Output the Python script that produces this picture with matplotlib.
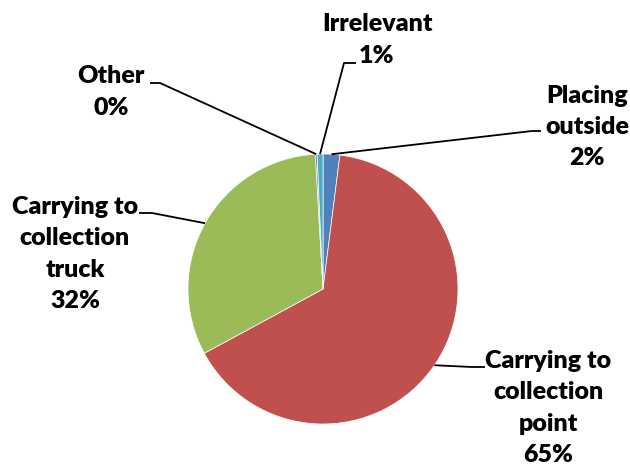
import matplotlib.pyplot as plt
import numpy as np

# slice data, clockwise from 12 o'clock (Excel order)
categories = ['Placing\noutside', 'Carrying to\ncollection\npoint',
              'Carrying to\ncollection\ntruck', 'Other', 'Irrelevant']
shares = [2.0, 65.1, 32.0, 0.2, 0.7]
colors = ['#4F81BD', '#C0504D', '#9BBB59', '#8064A2', '#4BACC6']

W, H = 630, 466

# label centre, leader knee, leader end (pixel coords, y from top)
label_xy = [(587, 127), (548, 408), (75, 254), (111, 92), (377, 40)]
knees = [(532, 131), (472, 367), (152, 213), (160, 83), (344, 63)]
ends = [(541, 131), (485, 367), (139, 213), (150, 83), (356, 63)]

plt.rcParams['font.family'] = ['Lato', 'DejaVu Sans']

fig = plt.figure(figsize=(6.3, 4.66), dpi=100)
ax = fig.add_axes([0, 0, 1, 1])

cx, cy, r = 323, H - 289, 135
wedges, _ = ax.pie(shares, colors=colors, startangle=90, counterclock=False,
                   center=(cx, cy), radius=r, frame=True,
                   wedgeprops=dict(edgecolor='white', linewidth=0.5))

ax.set_xlim(0, W)
ax.set_ylim(0, H)
ax.set_aspect('equal')
ax.axis('off')

for w, lab, v, (tx, ty), (kx, ky), (ex, ey) in zip(wedges, categories, shares,
                                                     label_xy, knees, ends):
    mid = np.deg2rad((w.theta1 + w.theta2) / 2)
    px, py = cx + r * np.cos(mid), cy + r * np.sin(mid)
    ax.plot([px, kx, ex], [py, H - ky, H - ey], color='black', lw=1.3,
            solid_capstyle='butt')
    ax.text(tx, H - ty, f'{lab}\n{round(v):.0f}%', ha='center', va='center',
            fontsize=18, fontweight='heavy', linespacing=1.52)

fig.savefig('out.png', dpi=100)
